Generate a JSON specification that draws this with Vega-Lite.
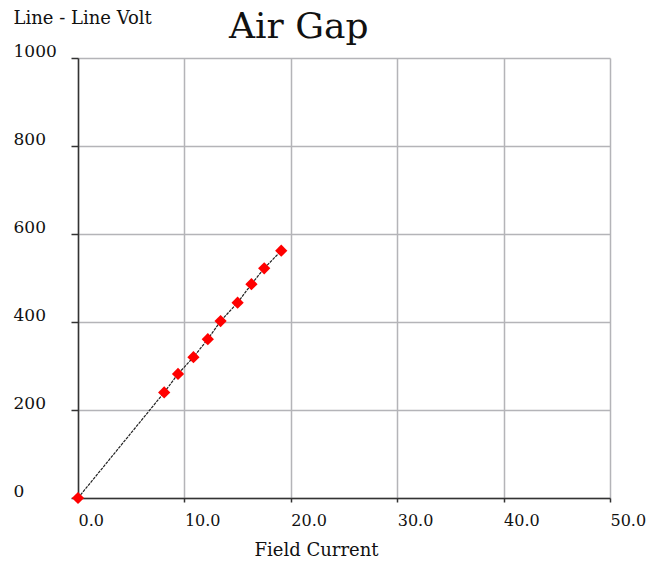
{
  "$schema": "https://vega.github.io/schema/vega-lite/v6.json",
  "autosize": {"type": "none"},
  "padding": {"left": 78, "top": 58, "right": 47, "bottom": 65},
  "width": 532,
  "height": 440,
  "background": "white",
  "title": {
    "text": "Air Gap",
    "font": "DejaVu Serif",
    "fontSize": 36,
    "fontWeight": "normal",
    "color": "#111",
    "anchor": "start",
    "frame": "group",
    "dx": 151,
    "baseline": "alphabetic",
    "offset": 0,
    "dy": 65
  },
  "config": {
    "view": {"stroke": null},
    "axis": {
      "labelFont": "DejaVu Serif",
      "titleFont": "DejaVu Serif",
      "labelColor": "#111",
      "titleColor": "#111",
      "titleFontWeight": "normal",
      "gridColor": "#b4b4b8",
      "gridWidth": 1.5,
      "domainColor": "#333",
      "domainWidth": 1.5,
      "tickColor": "#333",
      "tickWidth": 1.5
    }
  },
  "data": {
    "values": [
      {"current": 0.0, "volt": 0},
      {"current": 8.1, "volt": 240},
      {"current": 9.4, "volt": 282},
      {"current": 10.85, "volt": 320},
      {"current": 12.2, "volt": 361},
      {"current": 13.4, "volt": 402},
      {"current": 15.0, "volt": 444},
      {"current": 16.3, "volt": 486},
      {"current": 17.5, "volt": 522},
      {"current": 19.1, "volt": 562}
    ]
  },
  "encoding": {
    "x": {
      "field": "current",
      "type": "quantitative",
      "scale": {"domain": [0, 50], "nice": false, "zero": false},
      "axis": {
        "title": "Field Current",
        "values": [0, 10, 20, 30, 40, 50],
        "format": ".1f",
        "labelAlign": "left",
        "labelBaseline": "middle",
        "labelFontSize": 16,
        "labelPadding": 18,
        "tickSize": 4,
        "titleFontSize": 18,
        "titleX": 238,
        "titleY": 52,
        "titleAlign": "center",
        "titleBaseline": "middle",
        "labelFlush": false,
        "labelOverlap": false
      }
    },
    "y": {
      "field": "volt",
      "type": "quantitative",
      "scale": {"domain": [0, 1000], "nice": false},
      "axis": {
        "title": "Line - Line Volt",
        "values": [0, 200, 400, 600, 800, 1000],
        "format": "d",
        "labelAlign": "left",
        "labelBaseline": "middle",
        "labelFontSize": 17,
        "labelPadding": 58,
        "labelOffset": -7,
        "tickSize": 7,
        "titleFontSize": 18,
        "titleAngle": 0,
        "titleAlign": "left",
        "titleBaseline": "middle",
        "titleX": -65,
        "titleY": -40,
        "labelFlush": false,
        "labelOverlap": false
      }
    }
  },
  "layer": [
    {
      "mark": {"type": "line", "color": "#222", "strokeWidth": 1.2, "strokeDash": [3, 1]}
    },
    {
      "mark": {"type": "point", "shape": "diamond", "filled": true, "color": "#ff0000", "size": 150, "opacity": 1}
    }
  ]
}
